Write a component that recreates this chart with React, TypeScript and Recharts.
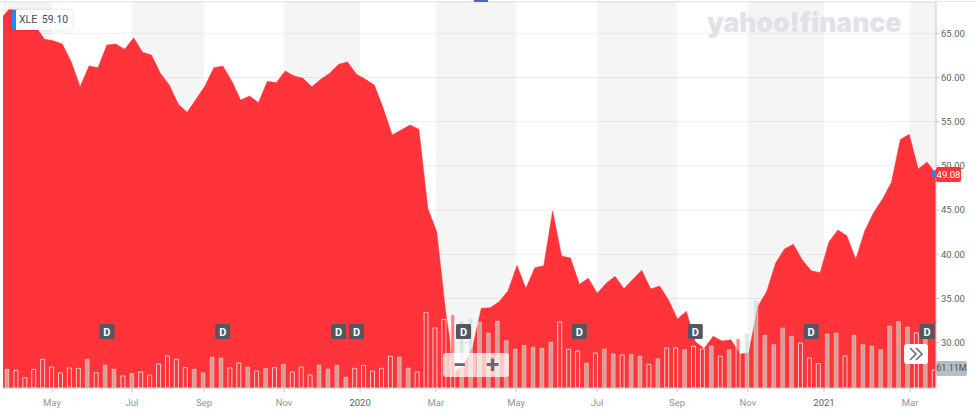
import React from 'react';
import { ComposedChart, Area, Bar, Cell, XAxis, YAxis, CartesianGrid, ReferenceArea, ReferenceDot } from 'recharts';

// weekly closes, index = week number in the visible window
const closes = [
  66.5, 67.7, 67.6, 67.5, 65.8, 64.32, 64.16, 63.79, 61.79, 58.96,
  61.3, 61.11, 63.68, 63.79, 63.19, 64.5, 62.85, 62.55, 60.48, 59.15,
  57.0, 56.06, 57.53, 59.04, 61.11, 61.3, 59.64, 57.45, 57.91, 57.15,
  59.57, 59.41, 60.74, 60.17, 59.91, 58.96, 59.8, 60.47, 61.49, 61.75,
  60.36, 59.8, 59.15, 56.52, 53.5, 54.06, 54.63, 54.14, 45.2, 42.56,
  33.47, 26.69, 27.48, 29.4, 33.89, 33.96, 34.64, 35.88, 38.75, 36.15,
  38.48, 38.71, 44.9, 39.81, 39.58, 36.61, 37.29, 35.59, 36.72, 37.51,
  36.11, 37.17, 38.19, 36.07, 36.41, 34.83, 32.68, 33.55, 30.11, 29.36,
  30.72, 30.19, 30.34, 28.72, 28.87, 34.07, 35.77, 38.99, 40.6, 41.13,
  39.36, 38.15, 37.92, 41.43, 42.75, 42.1, 39.43, 42.64, 44.71, 46.26,
  48.14, 53.0, 53.57, 49.65, 50.44, 49.08,
];

// millions of shares, starts at week 1
const volumes = [
  64.5, 60, 35, 63.4, 97.4, 71.3, 51, 68, 66.8, 97.4,
  52, 78, 64.5, 40.8, 49.8, 54.3, 44.1, 81.5, 108.7, 97.4,
  69, 64.5, 52, 105.3, 101.9, 68, 84.9, 71.3, 57.7, 66.8,
  69, 80.4, 54.3, 71.3, 44.1, 78, 64.5, 77, 37.4, 66.8,
  77, 57.7, 66.8, 107.5, 105.3, 67.9, 54.3, 255.8, 203.8, 233.2,
  249, 227.5, 238.9, 224.1, 186.8, 227.5, 160.7, 132.4, 144.9, 139.2,
  135.8, 156.2, 224.1, 131.3, 125.7, 84.9, 118.9, 132.4, 115.5, 112.1,
  114.3, 108.7, 80.4, 99.6, 135.8, 135.8, 130.2, 141.5, 132.4, 142.6,
  107.5, 130.2, 167.5, 184.5, 297.7, 180, 147.2, 203.8, 175.5, 152.8,
  101.9, 82.6, 183.4, 186.8, 108.7, 180, 147.2, 142.6, 130.2, 210.6,
  225.3, 207.2, 186.8, 175.5, 61.11,
];

// 1 = up week, 0 = down week
const volumeUp = [
  1, 0, 0, 0, 0, 0, 0, 0, 0, 1,
  0, 1, 1, 0, 1, 0, 0, 0, 0, 0,
  0, 1, 1, 1, 1, 0, 0, 1, 0, 1,
  0, 1, 0, 0, 0, 1, 1, 1, 1, 0,
  0, 0, 0, 0, 1, 1, 0, 0, 0, 0,
  0, 1, 1, 1, 1, 1, 1, 1, 1, 1,
  1, 1, 0, 0, 0, 1, 0, 1, 1, 0,
  1, 1, 0, 1, 0, 0, 1, 0, 0, 1,
  0, 1, 0, 1, 1, 1, 1, 1, 1, 0,
  0, 0, 1, 1, 0, 1, 1, 1, 1, 1,
  1, 1, 0, 1, 0,
];

const priceTicks = [30, 35, 40, 45, 50, 55, 60, 65];
const monthTicks = [5.85, 14.82, 22.9, 31.87, 40.4, 48.9, 57.9, 66.98, 75.95, 83.9, 92.44, 102.1];
const monthLabels = ['May', 'Jul', 'Sep', 'Nov', '2020', 'Mar', 'May', 'Jul', 'Sep', 'Nov', '2021', 'Mar'];
const dividendWeeks = [12, 25, 38, 40, 52, 65, 78, 91, 104];

const startWeek = 0.35;
const endWeek = 105;
const barShift = 0.15; // volume bars sit a touch left of the price points
const priceDomain = [24.88, 68.54];
const volumeDomain = [0, 1310];
const dividendLevel = 31.27;

const data = closes.map((close, i) => ({
  week: i,
  close,
  volume: i === 0 ? null : volumes[i - 1],
}));

const shadedBands = [
  [startWeek, monthTicks[0]],
  [monthTicks[1], monthTicks[2]],
  [monthTicks[3], monthTicks[4]],
  [monthTicks[5], monthTicks[6]],
  [monthTicks[7], monthTicks[8]],
  [monthTicks[9], monthTicks[10]],
  [monthTicks[11], endWeek],
];

const RED = '#ff333a';
const font = 'Roboto, Arial, sans-serif';

const MonthTick = ({ x, y, payload }: any) => {
  const label = monthLabels[monthTicks.indexOf(payload.value)];
  const isYear = label === '2020' || label === '2021';
  return (
    <text x={x} y={y + 12} textAnchor="middle" fontSize={9.5} fontFamily={font} fill={isYear ? '#5b636a' : '#8e949a'}>
      {label}
    </text>
  );
};

const DividendMark = ({ cx, cy }: any) => (
  <g>
    <rect x={cx - 7.5} y={cy - 7.5} width={15} height={15} rx={1.5} fill="#54575f" />
    <text x={cx} y={cy + 4} textAnchor="middle" fontSize={11} fontWeight={700} fontFamily={font} fill="#fff">D</text>
  </g>
);

const box = (left: number, top: number, width: number, height: number): React.CSSProperties => ({
  position: 'absolute', left, top, width, height, boxSizing: 'border-box',
});

export default function App() {
  return (
    <div style={{ position: 'absolute', left: 0, top: 0, width: 977, height: 414, background: '#fff', overflow: 'hidden', fontFamily: font }}>
      <ComposedChart width={977} height={414} data={data} margin={{ top: 2, right: 0, bottom: 0, left: 3 }}>
        {shadedBands.map(([a, b]) => (
          <ReferenceArea key={a} x1={a} x2={b} fill="#000" fillOpacity={0.04} stroke="none" />
        ))}
        <CartesianGrid vertical={false} stroke="#ededed" />
        <XAxis
          dataKey="week"
          type="number"
          domain={[startWeek, endWeek]}
          allowDataOverflow
          ticks={monthTicks}
          interval={0}
          height={26}
          tick={<MonthTick />}
          tickSize={4}
          tickLine={{ stroke: '#c4c8ce' }}
          axisLine={{ stroke: '#c4c8ce' }}
        />
        <XAxis
          xAxisId="volX"
          dataKey="week"
          type="number"
          hide
          domain={[startWeek + barShift, endWeek + barShift]}
          allowDataOverflow
        />
        <YAxis
          orientation="right"
          domain={priceDomain}
          allowDataOverflow
          ticks={priceTicks}
          width={41}
          tickSize={3}
          tickLine={{ stroke: '#c4c8ce' }}
          axisLine={{ stroke: '#c4c8ce' }}
          tickFormatter={(v: number) => v.toFixed(2)}
          tick={{ fontSize: 9.5, fill: '#5b636a', fontFamily: font }}
        />
        <YAxis yAxisId="vol" hide domain={volumeDomain} allowDataOverflow />
        <Area dataKey="close" type="linear" stroke={RED} strokeWidth={0.5} fill={RED} fillOpacity={1} dot={false} activeDot={false} isAnimationActive={false} />
        <Bar dataKey="volume" xAxisId="volX" yAxisId="vol" barSize={4} isAnimationActive={false}>
          {[null, ...volumes].map((_, i) => (
            <Cell
              key={i}
              fill={volumeUp[i - 1] ? 'rgba(190,226,210,0.62)' : 'rgba(255,51,58,0.6)'}
              stroke={volumeUp[i - 1] ? 'rgba(255,255,255,0.3)' : 'rgba(255,255,255,0.72)'}
              strokeWidth={1}
            />
          ))}
        </Bar>
        {dividendWeeks.map((w) => (
          <ReferenceDot key={w} x={w} y={dividendLevel} r={7} shape={<DividendMark />} />
        ))}
        <ReferenceDot x={endWeek} y={closes[closes.length - 1]} r={4} fill="#1a8cff" stroke="none" />
      </ComposedChart>

      {/* page furniture around the plot */}
      <div style={{ ...box(0, 1, 977, 1), background: '#e8e8e8' }} />
      <div style={{ ...box(474, 0, 14, 2), background: '#4d63d0' }} />

      <div style={{ ...box(12, 10, 60, 20), background: '#fff', borderRadius: 3, borderLeft: '4px solid #1a8cff', color: '#464e56', fontSize: 10.5, lineHeight: '20px', paddingLeft: 3, whiteSpace: 'pre', wordSpacing: 2, boxShadow: '0 0 4px rgba(0,0,0,0.12)' }}>
        XLE 59.10
      </div>

      <div style={{ ...box(707, 5, 200, 34), color: '#dfe2e6', fontFamily: 'Inter, sans-serif', fontWeight: 900, fontSize: 26.5, letterSpacing: 0, lineHeight: '34px', whiteSpace: 'pre' }}>
        yahoo!finance
      </div>

      <div style={{ ...box(936, 167, 25, 15), background: RED, borderRadius: 2, color: '#fff', fontSize: 9.5, lineHeight: '15px', textAlign: 'center' }}>
        49.08
      </div>
      <div style={{ ...box(936, 361, 31, 15), background: '#b9bdc6', borderRadius: 2, color: '#4c525a', fontSize: 9, lineHeight: '15px', textAlign: 'center' }}>
        61.11M
      </div>

      <div style={{ ...box(443, 353, 66, 24), background: 'rgba(255,255,255,0.72)', borderRadius: 3, color: '#6a6570' }}>
        <span style={{ position: 'absolute', left: 0, width: 33, textAlign: 'center', fontSize: 24, fontWeight: 700, lineHeight: '24px' }}>−</span>
        <span style={{ position: 'absolute', left: 33, top: 3, width: 1, height: 18, background: 'rgba(120,120,120,0.25)' }} />
        <span style={{ position: 'absolute', left: 33, width: 33, textAlign: 'center', fontSize: 24, fontWeight: 700, lineHeight: '24px' }}>+</span>
      </div>

      <div style={{ ...box(904, 344, 24, 20), background: '#fff', borderRadius: 3 }}>
        <svg width={24} height={20}>
          <path d="M6 4 L12 10 L6 16 M12 4 L18 10 L12 16" fill="none" stroke="#6a6a72" strokeWidth={1.6} />
        </svg>
      </div>
    </div>
  );
}
